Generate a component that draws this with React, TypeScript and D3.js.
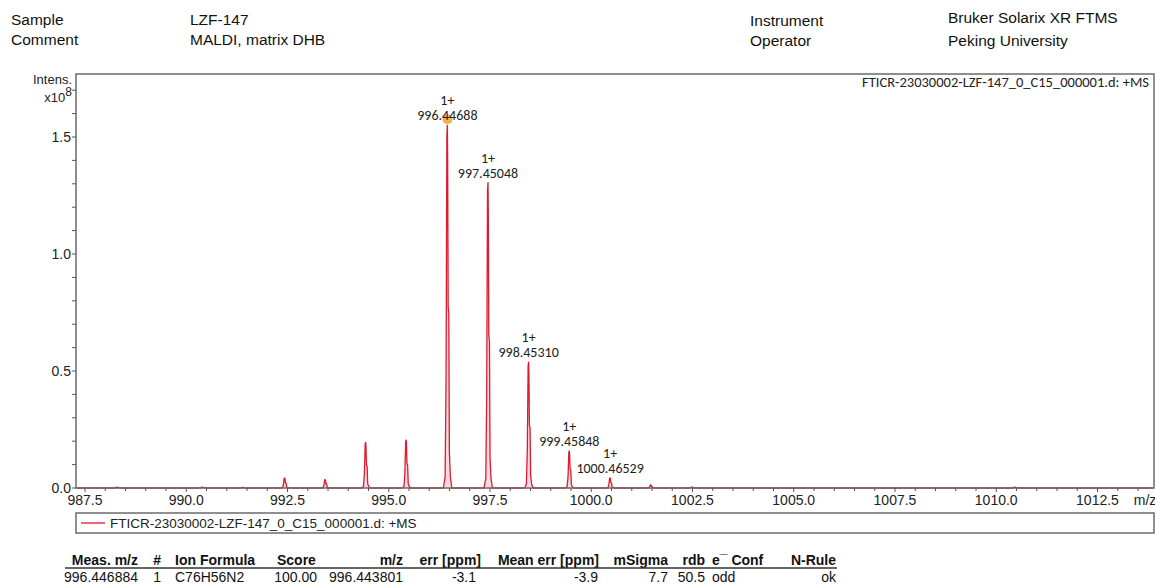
import React from 'react';
import * as d3 from 'd3';

// Centroid m/z and intensity (x10^8) of every peak in the trace
const peakMz = [988.30, 990.40, 991.39, 992.43, 993.43, 994.43, 995.43, 996.44688, 997.45048, 998.4531, 999.45848, 1000.46529, 1001.47, 1002.49, 1010.46];
const peakIntensity = [0.004, 0.004, 0.003, 0.043, 0.036, 0.195, 0.205, 1.55, 1.305, 0.538, 0.158, 0.043, 0.013, 0.004, 0.004];

// Annotated isotope peaks
const labeledMz = [996.44688, 997.45048, 998.4531, 999.45848, 1000.46529];
const labeledText = ['996.44688', '997.45048', '998.45310', '999.45848', '1000.46529'];
const chargeText = '1+';
const markedMz = 996.44688;

// Axis ticks
const xTickValues = [987.5, 990.0, 992.5, 995.0, 997.5, 1000.0, 1002.5, 1005.0, 1007.5, 1010.0, 1012.5];
const yTickValues = [0.0, 0.5, 1.0, 1.5];

// Profile line shape of a single peak: m/z offset and fraction of the apex
const shapeOffset = [-0.1, -0.055, -0.032, -0.012, 0.0, 0.008, 0.02, 0.036, 0.05, 0.075, 0.11];
const shapeFraction = [0, 0.03, 0.3, 0.97, 1.0, 0.9, 0.5, 0.48, 0.1, 0.03, 0];

// Header block
const headerLeft = [['Sample', 'LZF-147'], ['Comment', 'MALDI, matrix DHB']];
const headerRight = [['Instrument', 'Bruker Solarix XR FTMS'], ['Operator', 'Peking University']];
const traceName = 'FTICR-23030002-LZF-147_0_C15_000001.d: +MS';

// Formula result table
const tableHeaders = ['Meas. m/z', '#', 'Ion Formula', 'Score', 'm/z', 'err [ppm]', 'Mean err [ppm]', 'mSigma', 'rdb', 'e\u00AF Conf', 'N-Rule'];
const tableRow = ['996.446884', '1', 'C76H56N2', '100.00', '996.443801', '-3.1', '-3.9', '7.7', '50.5', 'odd', 'ok'];
const tableColX = [138, 161, 175, 277, 403, 481, 599, 668, 705, 712, 836];
const tableAnchor = ['end', 'end', 'start', 'start', 'end', 'end', 'end', 'end', 'end', 'start', 'end'];
const rowAnchor = ['end', 'end', 'start', 'end', 'end', 'end', 'end', 'end', 'end', 'start', 'end'];
const rowColX = [138, 161, 175, 317, 403, 476, 598, 668, 705, 712, 836];

const W = 1155;
const H = 584;
const frame = { left: 76, top: 74, right: 1154, bottom: 488 };
const RED = '#dc1a30';
const SANS = '"Liberation Sans", Arial, sans-serif';
const LABEL_FONT = 'Carlito, Lato, "Open Sans", sans-serif';

export default function App() {
  const x = d3.scaleLinear().domain([987.5, 1012.5]).range([85, 1097.5]);
  const y = d3.scaleLinear().domain([0, 1.5]).range([488, 137]);

  // Build the profile trace: baseline, then each peak's shape
  const trace: [number, number][] = [[x.invert(frame.left + 1), 0]];
  peakMz.forEach((mz, i) => {
    shapeOffset.forEach((off, k) => {
      trace.push([mz + off, peakIntensity[i] * shapeFraction[k]]);
    });
  });
  trace.push([x.invert(frame.right - 1), 0]);

  const line = d3.line<[number, number]>().x(d => x(d[0])).y(d => y(d[1]));
  const area = d3.area<[number, number]>().x(d => x(d[0])).y0(y(0)).y1(d => y(d[1]));

  const xMinor = d3.range(987.0, 1014.0, 0.5).filter(v => x(v) > frame.left && x(v) < frame.right);
  const yMinor = d3.range(0, 1.75, 0.1).filter(v => y(v) > frame.top);

  const intensityAt = (mz: number) => peakIntensity[peakMz.indexOf(mz)];

  return (
    <svg width={W} height={H} style={{ position: 'absolute', left: 0, top: 0, background: '#fff' }}>
      {/* header */}
      <g fontFamily={SANS} fontSize={15.5} fill="#111">
        {headerLeft.map((r, i) => (
          <g key={'hl' + i}>
            <text x={11} y={25 + i * 19.5}>{r[0]}</text>
            <text x={190} y={25 + i * 19.5}>{r[1]}</text>
          </g>
        ))}
        {headerRight.map((r, i) => (
          <g key={'hr' + i}>
            <text x={750} y={26 + i * 20}>{r[0]}</text>
            <text x={948} y={23 + i * 22.5}>{r[1]}</text>
          </g>
        ))}
      </g>

      {/* y axis title */}
      <g fontFamily={SANS} fontSize={13} fill="#222" textAnchor="end">
        <text x={72} y={84}>Intens.</text>
        <text x={72} y={102}>x10<tspan dy={-6} fontSize={12}>8</tspan></text>
      </g>

      {/* spectrum */}
      <path d={area(trace) || ''} fill={RED} fillOpacity={0.16} stroke="none" />
      <path d={line(trace) || ''} fill="none" stroke={RED} strokeWidth={1.3} strokeLinejoin="round" />

      {/* frame */}
      <rect x={frame.left} y={frame.top} width={frame.right - frame.left} height={frame.bottom - frame.top}
        fill="none" stroke="#6b6b6b" strokeWidth={1.5} />

      {/* y ticks */}
      <g stroke="#555" strokeWidth={1}>
        {yMinor.map(v => (
          <line key={'ym' + v} x1={frame.left - 4} x2={frame.left} y1={y(v)} y2={y(v)} />
        ))}
      </g>
      <g fontFamily={SANS} fontSize={14} fill="#222" textAnchor="end">
        {yTickValues.map(v => (
          <text key={'yt' + v} x={frame.left - 5} y={y(v) + 5}>{d3.format('.1f')(v)}</text>
        ))}
      </g>

      {/* x ticks */}
      <g stroke="#555" strokeWidth={1}>
        {xMinor.map(v => (
          <line key={'xm' + v} x1={x(v)} x2={x(v)} y1={frame.bottom} y2={frame.bottom + (xTickValues.includes(v) ? 4 : 3)} />
        ))}
      </g>
      <g fontFamily={SANS} fontSize={14} fill="#222" textAnchor="middle">
        {xTickValues.map(v => (
          <text key={'xt' + v} x={x(v)} y={frame.bottom + 17}>{d3.format('.1f')(v)}</text>
        ))}
        <text x={1145} y={frame.bottom + 17}>m/z</text>
      </g>

      {/* trace name inside the frame */}
      <text x={1149} y={87} fontFamily={LABEL_FONT} fontSize={14.5} fill="#222" textAnchor="end">{traceName}</text>

      {/* marked apex */}
      <circle cx={x(markedMz)} cy={y(intensityAt(markedMz)) - 6} r={5} fill="#f0a232" fillOpacity={0.85} />

      {/* peak annotations */}
      <g fontFamily={LABEL_FONT} fontSize={14} fill="#222" textAnchor="middle">
        {labeledMz.map((mz, i) => {
          const top = y(intensityAt(mz));
          return (
            <g key={'pl' + i}>
              <text x={x(mz)} y={top - 20}>{chargeText}</text>
              <text x={x(mz)} y={top - 5}>{labeledText[i]}</text>
            </g>
          );
        })}
      </g>

      {/* legend */}
      <rect x={frame.left} y={513} width={frame.right - frame.left} height={20} fill="none" stroke="#6b6b6b" strokeWidth={1.5} />
      <line x1={81} x2={105} y1={523} y2={523} stroke={RED} strokeWidth={1.3} />
      <text x={110} y={528} fontFamily={SANS} fontSize={13.5} fill="#222">{traceName}</text>

      {/* result table */}
      <g fontFamily={SANS} fontSize={14} fontWeight="bold" fill="#111">
        {tableHeaders.map((h, i) => (
          <text key={'th' + i} x={tableColX[i]} y={565} textAnchor={tableAnchor[i]}>{h}</text>
        ))}
      </g>
      <line x1={65} x2={837} y1={568} y2={568} stroke="#333" strokeWidth={1.5} />
      <g fontFamily={SANS} fontSize={14} fill="#111">
        {tableRow.map((c, i) => (
          <text key={'td' + i} x={rowColX[i]} y={582} textAnchor={rowAnchor[i]}>{c}</text>
        ))}
      </g>
    </svg>
  );
}
